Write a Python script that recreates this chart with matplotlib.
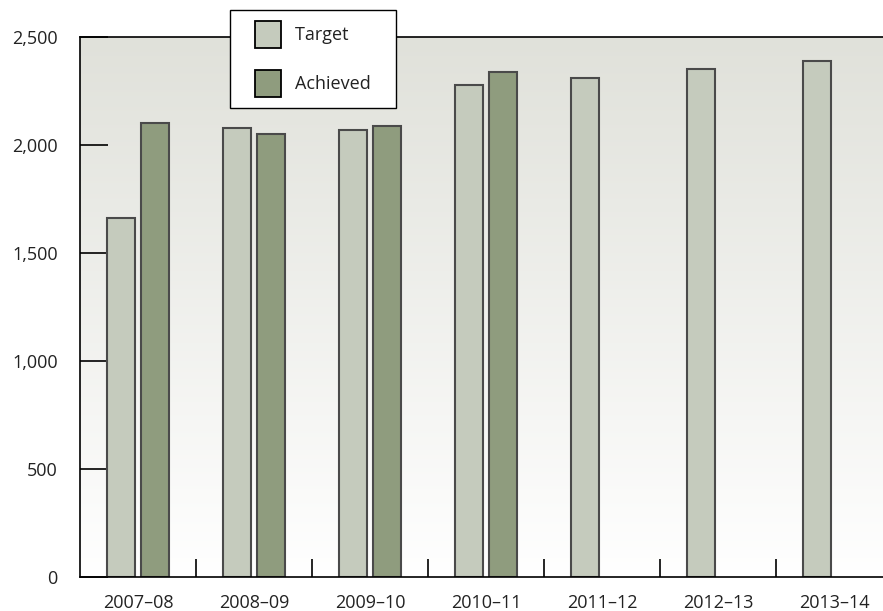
import numpy as np
import matplotlib
matplotlib.use("Agg")
import matplotlib.pyplot as plt
import matplotlib.patches as mpatches
from matplotlib.container import BarContainer
from matplotlib.legend_handler import HandlerPatch

plt.rcParams['font.family'] = ['Open Sans', 'DejaVu Sans']

# data
years = ['2007–08', '2008–09', '2009–10', '2010–11', '2011–12', '2012–13', '2013–14']
target = [1660, 2080, 2070, 2280, 2310, 2350, 2390]
achieved = [2100, 2050, 2090, 2340]
y_ticks = [0, 500, 1000, 1500, 2000, 2500]
y_labels = ['0', '500', '1,000', '1,500', '2,000', '2,500']

target_color = '#c5cbbd'
achieved_color = '#8f9c7e'
edge = '#4a4a4a'

fig = plt.figure(figsize=(8.83, 6.11), dpi=100)
ax = fig.add_axes([80/883, 34/611, 812/883, 540/611])

# soft gradient background
grad = np.linspace(0, 1, 256).reshape(-1, 1)
cmap = matplotlib.colors.LinearSegmentedColormap.from_list('bg', ['#ffffff', '#e0e1da'])
ax.imshow(grad, extent=[0, 1, 0, 1], transform=ax.transAxes, cmap=cmap,
          aspect='auto', origin='lower', zorder=0)

x = np.arange(len(years))
w = 0.24
off = 0.147
ax.bar(x - off, target, width=w, color=target_color, edgecolor=edge, linewidth=1.5,
       label='Target', zorder=2)
ax.bar(x[:len(achieved)] + off, achieved, width=w, color=achieved_color, edgecolor=edge,
       linewidth=1.5, label='Achieved', zorder=2)

ax.set_xlim(-0.5, len(years) - 0.5)
ax.set_ylim(0, 2500)

ax.spines['right'].set_visible(False)
for s in ['left', 'top', 'bottom']:
    ax.spines[s].set_color('black')
    ax.spines[s].set_linewidth(1.2)

ax.set_yticks(y_ticks)
ax.set_yticklabels(y_labels)
ax.tick_params(axis='y', direction='in', length=20, width=1.2, pad=16,
               labelsize=13, colors='black')

ax.set_xticks(x)
ax.set_xticklabels(years)
ax.tick_params(axis='x', which='major', length=0, pad=12, labelsize=13)
ax.set_xticks(np.arange(0.5, len(years) - 0.5, 1), minor=True)
ax.tick_params(axis='x', which='minor', direction='in', length=13, width=1.2)
for lab in ax.get_xticklabels() + ax.get_yticklabels():
    lab.set_color('#222222')


# legend swatch sits at the right of a wider handle box (extra left padding)
def swatch(legend, orig_handle, xdescent, ydescent, width, height, fontsize):
    return mpatches.Rectangle((-xdescent + width * 14 / 40, -ydescent),
                              width * 26 / 40, height)


def first_bar(legend_handle, orig_handle):
    legend_handle.update_from(orig_handle[0])


handles, labels = ax.get_legend_handles_labels()
labels = [l + '   ' for l in labels]
fs_px = 13 * 100 / 72
hh = (27 / fs_px - 0.245) / 0.65
leg = fig.legend(handles, labels, loc='upper left',
                 bbox_to_anchor=(230/883, 1 - 10/611),
                 fontsize=13, frameon=True, fancybox=False, framealpha=1,
                 edgecolor='black', handlelength=40 / fs_px, handleheight=hh,
                 labelspacing=22 / fs_px, borderpad=11 / fs_px,
                 handletextpad=14 / fs_px, borderaxespad=0,
                 handler_map={BarContainer: HandlerPatch(patch_func=swatch,
                                                         update_func=first_bar)})
leg.get_frame().set_linewidth(1.0)
leg.set_zorder(5)
for t in leg.get_texts():
    t.set_color('#222222')
for h in leg.legend_handles:
    h.set_edgecolor('black')
    h.set_linewidth(1.3)

fig.savefig('out.png', dpi=100)
